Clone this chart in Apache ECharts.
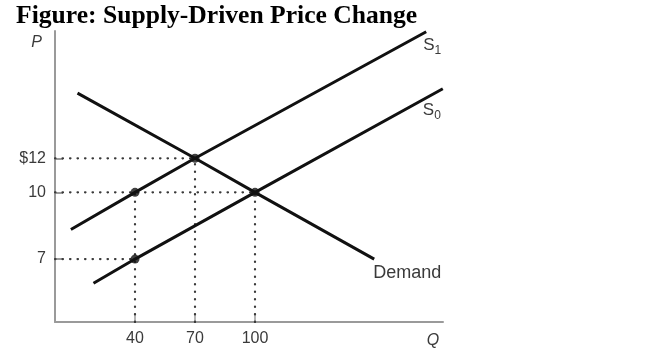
<!DOCTYPE html>
<html><head><meta charset="utf-8">
<script src="https://cdn.jsdelivr.net/npm/echarts@6/dist/echarts.min.js"></script>
<style>html,body{margin:0;padding:0;background:#fff}#c{width:650px;height:358px}</style>
</head><body><div id="c"></div>
<script>
// ---- data ----
const chartTitle = 'Figure: Supply-Driven Price Change';
const quantityTicks = [40, 70, 100];
const priceTicks = [7, 10, 12];
const demandLine = [[11.25, 17.0], [70, 12], [100, 10], [159.6, 7.0]];
const supply1Line = [[7.95, 8.2], [40, 10], [70, 12], [185.6, 23.6]];
const supply0Line = [[19.25, 6.15], [40, 7], [100, 10], [193.9, 17.4]];
const keyPoints = [[40, 10], [40, 7], [70, 12], [100, 10]];
const priceGuides = [[12, 70], [10, 100], [7, 40]];      // [price, up to quantity]
const quantityGuides = [[40, 10], [70, 12], [100, 10]];  // [quantity, up to price]

const Q_MIN = 0, Q_MAX = 194, P_MIN = 5, P_MAX = 23.7;
const labelGray = '#3a3a3a';
const axisGray = '#9a9a9a';
const ink = '#111';

const guideStyle = { color: '#3a3a3a', width: 2.2, type: [0.5, 7], cap: 'round' };
const guideSeries = [];
priceGuides.forEach(([p, q]) => guideSeries.push({
  type: 'line', data: [[Q_MIN, p], [q, p]], symbol: 'none', lineStyle: guideStyle, z: 1, silent: true
}));
quantityGuides.forEach(([q, p]) => guideSeries.push({
  type: 'line', data: [[q, P_MIN], [q, p]], symbol: 'none', lineStyle: guideStyle, z: 1, silent: true
}));

function curveLabel(series, text, offset, rich) {
  const end = series[series.length - 1];
  return {
    symbol: 'circle', symbolSize: 0, silent: true,
    itemStyle: { color: 'rgba(0,0,0,0)' },
    label: { show: true },
    data: [{
      coord: end,
      label: { show: true, position: 'right', distance: 0, offset: offset, formatter: text, rich: rich,
               color: labelGray, fontFamily: 'Liberation Sans', fontSize: 18 }
    }]
  };
}
const subRich = {
  s: { fontSize: 17, color: labelGray, fontFamily: 'Liberation Sans', padding: [0, 0, 3, 0] },
  sub: { fontSize: 12, color: labelGray, fontFamily: 'Liberation Sans', lineHeight: 12, verticalAlign: 'bottom' }
};

const curveStyle = { color: ink, width: 3 };
const option = {
  animation: false,
  backgroundColor: '#fff',
  title: {
    text: chartTitle, left: 16, top: 3, padding: 0,
    textStyle: { fontFamily: 'Liberation Serif', fontWeight: 'bold', fontSize: 25.6, color: '#000' }
  },
  grid: { left: 55, right: 207, top: 31, bottom: 36, containLabel: false },
  xAxis: {
    type: 'value', min: Q_MIN, max: Q_MAX,
    name: 'Q', nameLocation: 'end', nameGap: -10,
    nameTextStyle: { fontStyle: 'italic', fontSize: 16, color: labelGray, fontFamily: 'Liberation Sans',
                     align: 'center', verticalAlign: 'top', padding: [11, 0, 0, 0] },
    axisLine: { show: true, lineStyle: { color: axisGray, width: 2 } },
    axisTick: { show: true, inside: true, length: 9, customValues: quantityTicks, lineStyle: { color: axisGray, width: 1.5 } },
    axisLabel: { customValues: quantityTicks, margin: 9, fontSize: 16, color: labelGray, fontFamily: 'Liberation Sans' },
    splitLine: { show: false }
  },
  yAxis: {
    type: 'log', logBase: 10, min: P_MIN, max: P_MAX,
    name: 'P', nameLocation: 'end', nameGap: -12,
    nameTextStyle: { fontStyle: 'italic', fontSize: 16, color: labelGray, fontFamily: 'Liberation Sans',
                     align: 'right', verticalAlign: 'middle', padding: [0, 13, 0, 0] },
    axisLine: { show: true, lineStyle: { color: axisGray, width: 2 } },
    axisTick: { show: true, inside: true, length: 8, customValues: priceTicks, lineStyle: { color: axisGray, width: 2 } },
    axisLabel: { customValues: priceTicks, margin: 9, fontSize: 16, color: labelGray, fontFamily: 'Liberation Sans',
                 formatter: v => (Math.round(v) === 12 ? '$12' : String(Math.round(v))) },
    splitLine: { show: false }
  },
  series: [
    ...guideSeries,
    { name: 'Demand', type: 'line', data: demandLine, symbol: 'none', lineStyle: curveStyle, z: 3,
      markPoint: curveLabel(demandLine, 'Demand', [-1, 14]) },
    { name: 'S1', type: 'line', data: supply1Line, symbol: 'none', lineStyle: curveStyle, z: 3,
      markPoint: curveLabel(supply1Line, '{s|S}{sub|1}', [-3, 15], subRich) },
    { name: 'S0', type: 'line', data: supply0Line, symbol: 'none', lineStyle: curveStyle, z: 3,
      markPoint: curveLabel(supply0Line, '{s|S}{sub|0}', [-20, 23], subRich) },
    { type: 'scatter', data: keyPoints, symbol: 'circle', symbolSize: 9, itemStyle: { color: ink }, z: 5, silent: true }
  ]
};
const chart = echarts.init(document.getElementById('c'), null, { renderer: 'canvas' });
chart.setOption(option);
</script>
</body></html>
